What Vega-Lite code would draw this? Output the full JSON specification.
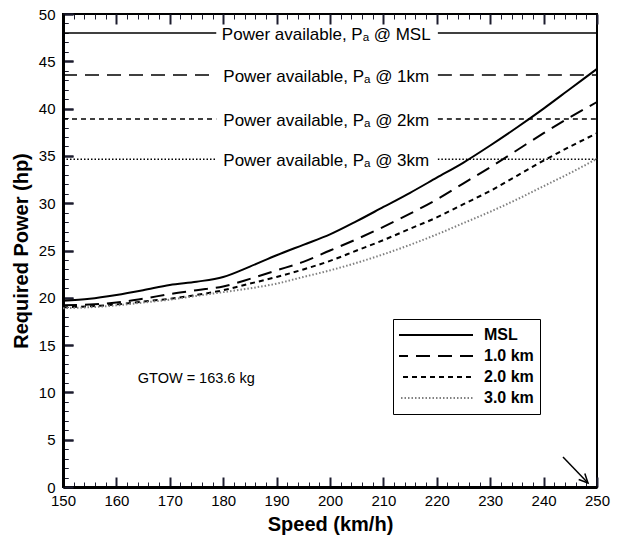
{
  "$schema": "https://vega.github.io/schema/vega-lite/v6.json",
  "width": 534,
  "height": 473,
  "autosize": {"type": "none"},
  "padding": {"left": 63, "top": 14, "right": 27, "bottom": 51},
  "background": "white",
  "config": {
    "font": "Liberation Sans",
    "view": {"stroke": "black", "strokeWidth": 2},
    "axis": {"labelColor": "black", "titleColor": "black", "domainColor": "black"}
  },
  "datasets": {
    "curves": [
      {"s":150,"p":19.7,"series":"MSL"},{"s":155,"p":19.9,"series":"MSL"},{"s":160,"p":20.3,"series":"MSL"},{"s":165,"p":20.8,"series":"MSL"},{"s":170,"p":21.35,"series":"MSL"},{"s":175,"p":21.7,"series":"MSL"},{"s":180,"p":22.2,"series":"MSL"},{"s":185,"p":23.3,"series":"MSL"},{"s":190,"p":24.5,"series":"MSL"},{"s":195,"p":25.6,"series":"MSL"},{"s":200,"p":26.7,"series":"MSL"},{"s":205,"p":28.1,"series":"MSL"},{"s":210,"p":29.6,"series":"MSL"},{"s":215,"p":31.1,"series":"MSL"},{"s":220,"p":32.7,"series":"MSL"},{"s":225,"p":34.3,"series":"MSL"},{"s":230,"p":36.1,"series":"MSL"},{"s":235,"p":38.0,"series":"MSL"},{"s":240,"p":40.0,"series":"MSL"},{"s":245,"p":42.1,"series":"MSL"},{"s":250,"p":44.2,"series":"MSL"},
      {"s":150,"p":19.2,"series":"1.0 km"},{"s":155,"p":19.3,"series":"1.0 km"},{"s":160,"p":19.5,"series":"1.0 km"},{"s":165,"p":19.9,"series":"1.0 km"},{"s":170,"p":20.4,"series":"1.0 km"},{"s":175,"p":20.8,"series":"1.0 km"},{"s":180,"p":21.2,"series":"1.0 km"},{"s":185,"p":22.0,"series":"1.0 km"},{"s":190,"p":22.9,"series":"1.0 km"},{"s":195,"p":23.8,"series":"1.0 km"},{"s":200,"p":25.0,"series":"1.0 km"},{"s":205,"p":26.2,"series":"1.0 km"},{"s":210,"p":27.5,"series":"1.0 km"},{"s":215,"p":28.9,"series":"1.0 km"},{"s":220,"p":30.4,"series":"1.0 km"},{"s":225,"p":32.1,"series":"1.0 km"},{"s":230,"p":33.8,"series":"1.0 km"},{"s":235,"p":35.6,"series":"1.0 km"},{"s":240,"p":37.4,"series":"1.0 km"},{"s":245,"p":39.1,"series":"1.0 km"},{"s":250,"p":40.7,"series":"1.0 km"},
      {"s":150,"p":19.0,"series":"2.0 km"},{"s":155,"p":19.1,"series":"2.0 km"},{"s":160,"p":19.3,"series":"2.0 km"},{"s":165,"p":19.6,"series":"2.0 km"},{"s":170,"p":19.9,"series":"2.0 km"},{"s":175,"p":20.3,"series":"2.0 km"},{"s":180,"p":20.8,"series":"2.0 km"},{"s":185,"p":21.5,"series":"2.0 km"},{"s":190,"p":22.2,"series":"2.0 km"},{"s":195,"p":23.0,"series":"2.0 km"},{"s":200,"p":23.9,"series":"2.0 km"},{"s":205,"p":25.0,"series":"2.0 km"},{"s":210,"p":26.1,"series":"2.0 km"},{"s":215,"p":27.3,"series":"2.0 km"},{"s":220,"p":28.5,"series":"2.0 km"},{"s":225,"p":29.9,"series":"2.0 km"},{"s":230,"p":31.3,"series":"2.0 km"},{"s":235,"p":32.9,"series":"2.0 km"},{"s":240,"p":34.5,"series":"2.0 km"},{"s":245,"p":36.0,"series":"2.0 km"},{"s":250,"p":37.4,"series":"2.0 km"},
      {"s":150,"p":18.9,"series":"3.0 km"},{"s":155,"p":19.0,"series":"3.0 km"},{"s":160,"p":19.2,"series":"3.0 km"},{"s":165,"p":19.5,"series":"3.0 km"},{"s":170,"p":19.8,"series":"3.0 km"},{"s":175,"p":20.2,"series":"3.0 km"},{"s":180,"p":20.6,"series":"3.0 km"},{"s":185,"p":21.0,"series":"3.0 km"},{"s":190,"p":21.5,"series":"3.0 km"},{"s":195,"p":22.2,"series":"3.0 km"},{"s":200,"p":22.9,"series":"3.0 km"},{"s":205,"p":23.7,"series":"3.0 km"},{"s":210,"p":24.6,"series":"3.0 km"},{"s":215,"p":25.6,"series":"3.0 km"},{"s":220,"p":26.7,"series":"3.0 km"},{"s":225,"p":27.9,"series":"3.0 km"},{"s":230,"p":29.1,"series":"3.0 km"},{"s":235,"p":30.4,"series":"3.0 km"},{"s":240,"p":31.8,"series":"3.0 km"},{"s":245,"p":33.2,"series":"3.0 km"},{"s":250,"p":34.7,"series":"3.0 km"}
    ],
    "pa": [
      {"series":"MSL","p":48.0,"s1":150,"s2":178.7},{"series":"MSL","p":48.0,"s1":220.2,"s2":250},
      {"series":"1.0 km","p":43.55,"s1":150,"s2":178.7},{"series":"1.0 km","p":43.55,"s1":220.2,"s2":250},
      {"series":"2.0 km","p":38.9,"s1":150,"s2":178.7},{"series":"2.0 km","p":38.9,"s1":220.2,"s2":250},
      {"series":"3.0 km","p":34.65,"s1":150,"s2":178.7},{"series":"3.0 km","p":34.65,"s1":220.2,"s2":250}
    ],
    "palabels": [
      {"s":199.3,"p":48.0,"label":"Power available, Pₐ @ MSL"},
      {"s":199.3,"p":43.55,"label":"Power available, Pₐ @ 1km"},
      {"s":199.3,"p":38.9,"label":"Power available, Pₐ @ 2km"},
      {"s":199.3,"p":34.65,"label":"Power available, Pₐ @ 3km"}
    ],
    "note": [{"s":164.0,"p":11.0,"label":"GTOW = 163.6 kg"}],
    "arrow": [
      {"part":"shaft","ord":1,"s":243.63,"p":3.17},{"part":"shaft","ord":2,"s":248.31,"p":0.42},
      {"part":"head","ord":1,"s":247.72,"p":1.42},{"part":"head","ord":2,"s":248.31,"p":0.42},{"part":"head","ord":3,"s":246.57,"p":0.80}
    ]
  },
  "layer": [
    {
      "data": {"name": "pa"},
      "transform": [{"filter": "datum.series === 'MSL'"}],
      "mark": {"type": "rule", "strokeWidth": 1.5, "color": "black"},
      "encoding": {
        "x": {"field": "s1", "type": "quantitative", "scale": {"domain": [150, 250], "nice": false, "zero": false},
          "axis": {"orient": "bottom", "tickCount": 50, "labels": false, "domain": false, "title": null, "offset": -5, "tickSize": 5, "tickColor": "#1c1c2e", "tickWidth": 1, "grid": true, "gridColor": "#1c1c2e", "gridWidth": 1, "gridDash": [5, 1000]}},
        "x2": {"field": "s2"},
        "y": {"field": "p", "type": "quantitative", "scale": {"domain": [0, 50], "nice": false, "zero": true},
          "axis": {"orient": "left", "tickCount": 50, "labels": false, "domain": false, "title": null, "offset": -5, "tickSize": 5, "tickColor": "#1c1c2e", "tickWidth": 1, "grid": true, "gridColor": "#1c1c2e", "gridWidth": 1, "gridDash": [5, 1000]}}
      }
    },
    {
      "data": {"name": "pa"},
      "transform": [{"filter": "datum.series === '1.0 km'"}],
      "mark": {"type": "rule", "strokeWidth": 1.5, "color": "black", "strokeDash": [14, 8]},
      "encoding": {
        "x": {"field": "s1", "type": "quantitative", "axis": null},
        "x2": {"field": "s2"},
        "y": {"field": "p", "type": "quantitative", "axis": null}
      }
    },
    {
      "data": {"name": "pa"},
      "transform": [{"filter": "datum.series === '2.0 km'"}],
      "mark": {"type": "rule", "strokeWidth": 1.5, "color": "black", "strokeDash": [5, 4]},
      "encoding": {
        "x": {"field": "s1", "type": "quantitative", "axis": null},
        "x2": {"field": "s2"},
        "y": {"field": "p", "type": "quantitative", "axis": null}
      }
    },
    {
      "data": {"name": "pa"},
      "transform": [{"filter": "datum.series === '3.0 km'"}],
      "mark": {"type": "rule", "strokeWidth": 1.5, "color": "black", "strokeDash": [1.5, 2]},
      "encoding": {
        "x": {"field": "s1", "type": "quantitative", "axis": null},
        "x2": {"field": "s2"},
        "y": {"field": "p", "type": "quantitative", "axis": null}
      }
    },
    {
      "data": {"name": "palabels"},
      "mark": {"type": "text", "fontSize": 17, "align": "center", "baseline": "middle", "dy": 2, "color": "black"},
      "encoding": {
        "x": {"field": "s", "type": "quantitative",
          "axis": {"orient": "bottom", "values": [150,160,170,180,190,200,210,220,230,240,250], "labels": false, "domain": false, "title": null, "offset": -10, "tickSize": 10, "tickColor": "#1c1c2e", "tickWidth": 2, "grid": false}},
        "y": {"field": "p", "type": "quantitative",
          "axis": {"orient": "left", "values": [0,5,10,15,20,25,30,35,40,45,50], "labels": false, "domain": false, "title": null, "offset": -10, "tickSize": 10, "tickColor": "#1c1c2e", "tickWidth": 2, "grid": false}},
        "text": {"field": "label"}
      }
    },
    {
      "data": {"name": "curves"},
      "transform": [{"filter": "datum.series === 'MSL'"}],
      "mark": {"type": "line", "strokeWidth": 2, "interpolate": "monotone"},
      "encoding": {
        "x": {"field": "s", "type": "quantitative",
          "axis": {"orient": "bottom", "values": [150,160,170,180,190,200,210,220,230,240,250], "title": "Speed (km/h)", "titleFontSize": 20, "titleFontWeight": "bold", "titlePadding": 6, "labelFontSize": 15, "labelPadding": 6, "labelFlush": false, "tickSize": 0, "tickColor": "#1c1c2e", "domainWidth": 3, "grid": true, "gridColor": "#1c1c2e", "gridWidth": 2, "gridDash": [10, 1000]}},
        "y": {"field": "p", "type": "quantitative",
          "axis": {"orient": "left", "values": [0,5,10,15,20,25,30,35,40,45,50], "title": "Required Power (hp)", "titleFontSize": 20, "titleFontWeight": "bold", "titlePadding": 7, "labelFontSize": 15, "labelPadding": 8, "tickSize": 0, "tickColor": "#1c1c2e", "domainWidth": 3, "grid": true, "gridColor": "#1c1c2e", "gridWidth": 2, "gridDash": [10, 1000]}},
        "color": {"field": "series", "type": "nominal",
          "scale": {"domain": ["MSL", "1.0 km", "2.0 km", "3.0 km"], "range": ["#000000", "#000000", "#000000", "#808080"]},
          "legend": {"title": null, "orient": "none", "legendX": 330, "legendY": 305, "symbolType": "stroke", "symbolSize": 6241, "symbolStrokeWidth": 2, "clipHeight": 20, "rowPadding": 1, "padding": 6, "symbolOffset": -6, "labelOffset": 10, "labelFontSize": 16, "labelFontWeight": "bold", "labelColor": "black", "strokeColor": "black", "fillColor": "white",
            "encode": {"symbols": {"update": {"strokeDash": {"signal": "datum.value === '1.0 km' ? [14, 8] : datum.value === '2.0 km' ? [5, 4] : datum.value === '3.0 km' ? [1.5, 2] : [1, 0]"}}}}}}
      }
    },
    {
      "data": {"name": "curves"},
      "transform": [{"filter": "datum.series === '1.0 km'"}],
      "mark": {"type": "line", "strokeWidth": 2, "interpolate": "monotone", "strokeDash": [14, 8]},
      "encoding": {
        "x": {"field": "s", "type": "quantitative", "axis": null},
        "y": {"field": "p", "type": "quantitative", "axis": null},
        "color": {"field": "series", "type": "nominal"}
      }
    },
    {
      "data": {"name": "curves"},
      "transform": [{"filter": "datum.series === '2.0 km'"}],
      "mark": {"type": "line", "strokeWidth": 2, "interpolate": "monotone", "strokeDash": [5, 4]},
      "encoding": {
        "x": {"field": "s", "type": "quantitative", "axis": null},
        "y": {"field": "p", "type": "quantitative", "axis": null},
        "color": {"field": "series", "type": "nominal"}
      }
    },
    {
      "data": {"name": "curves"},
      "transform": [{"filter": "datum.series === '3.0 km'"}],
      "mark": {"type": "line", "strokeWidth": 2, "interpolate": "monotone", "strokeDash": [1.5, 2]},
      "encoding": {
        "x": {"field": "s", "type": "quantitative", "axis": null},
        "y": {"field": "p", "type": "quantitative", "axis": null},
        "color": {"field": "series", "type": "nominal"}
      }
    },
    {
      "data": {"name": "note"},
      "mark": {"type": "text", "fontSize": 14.5, "align": "left", "baseline": "alphabetic", "color": "black"},
      "encoding": {
        "x": {"field": "s", "type": "quantitative", "axis": null},
        "y": {"field": "p", "type": "quantitative", "axis": null},
        "text": {"field": "label"}
      }
    },
    {
      "data": {"name": "arrow"},
      "mark": {"type": "line", "strokeWidth": 1.5, "color": "black"},
      "encoding": {
        "x": {"field": "s", "type": "quantitative", "axis": null},
        "y": {"field": "p", "type": "quantitative", "axis": null},
        "detail": {"field": "part"},
        "order": {"field": "ord"}
      }
    }
  ],
  "resolve": {"axis": {"x": "independent", "y": "independent"}}
}
